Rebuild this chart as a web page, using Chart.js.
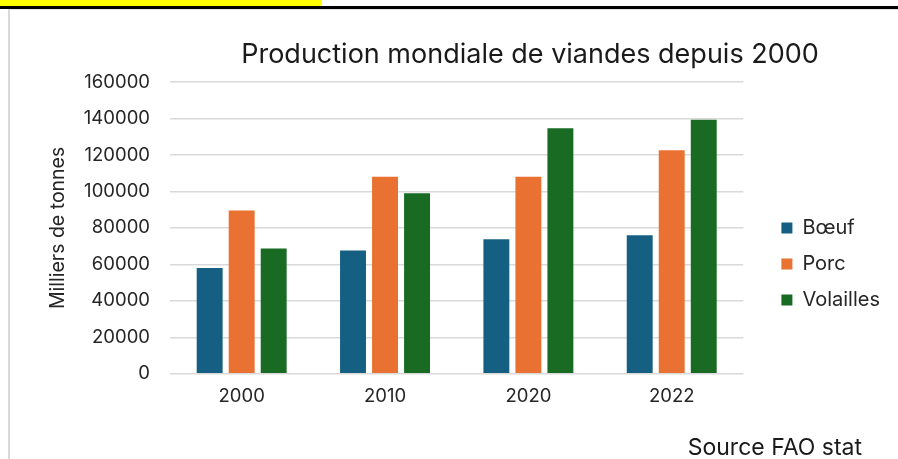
<!DOCTYPE html>
<html>
<head>
<meta charset="utf-8">
<script src="https://cdn.jsdelivr.net/npm/chart.js@4"></script>
<style>
  body { margin: 0; background: #fff; overflow: hidden; }
  #wrap { position: relative; width: 898px; height: 459px; }
  #surligne { position: absolute; left: 0; top: 0; width: 322px; height: 6px; background: #ffff00; }
  #trait { position: absolute; left: 0; top: 6px; width: 898px; height: 3px; background: #000; }
  #cadre { position: absolute; left: 8px; top: 9px; width: 890px; height: 450px; border-left: 2px solid #d9d9d9; border-top: 1px solid #e3e3e3; }
  canvas { position: absolute; left: 0; top: 0; }
</style>
</head>
<body>
<div id="wrap">
  <div id="surligne"></div>
  <div id="trait"></div>
  <div id="cadre"></div>
  <canvas id="barChart" width="898" height="459"></canvas>
</div>
<script>
// données (milliers de tonnes)
var annees = ["2000", "2010", "2020", "2022"];
var boeuf = [58000, 67600, 73800, 76000];
var porc = [89600, 108000, 108000, 122600];
var volailles = [68700, 99000, 134700, 139300];

var couleurs = {
  boeuf: "#156082",
  porc: "#e97132",
  volailles: "#196b24",
};

var police = "Inter, 'Liberation Sans', sans-serif";
var gris = "#262626";

// titre et source dessinés à la main (position comme dans Excel)
var textesPlugin = {
  id: "textes",
  afterDraw: function (chart) {
    var ctx = chart.ctx;
    ctx.save();
    ctx.fillStyle = "#1a1a1a";
    ctx.textBaseline = "middle";
    ctx.textAlign = "center";
    ctx.font = "27px " + police;
    ctx.fillText("Production mondiale de viandes depuis 2000", 530, 55);
    ctx.textAlign = "right";
    ctx.font = "23px " + police;
    ctx.fillText("Source FAO stat", 862, 448);
    ctx.restore();
  },
};

window.addEventListener("DOMContentLoaded", function () {
  var ctx = document.getElementById("barChart");
  new Chart(ctx, {
    type: "bar",
    data: {
      labels: annees,
      datasets: [
        { label: "Bœuf", data: boeuf, backgroundColor: couleurs.boeuf },
        { label: "Porc", data: porc, backgroundColor: couleurs.porc },
        { label: "Volailles", data: volailles, backgroundColor: couleurs.volailles },
      ],
    },
    options: {
      responsive: false,
      devicePixelRatio: 1,
      animation: false,
      categoryPercentage: 0.67,
      barPercentage: 0.81,
      layout: {
        padding: { left: 40, top: 82, right: 8, bottom: 39 },
      },
      plugins: {
        title: { display: false },
        tooltip: { enabled: false },
        legend: {
          position: "right",
          align: "center",
          // titre vide : descend un peu les entrées de la légende
          title: {
            display: true,
            text: " ",
            font: { size: 10 },
            padding: { top: 14, bottom: 0 },
          },
          labels: {
            boxWidth: 11,
            boxHeight: 11,
            padding: 16,
            color: gris,
            font: { family: police, size: 20 },
          },
        },
      },
      scales: {
        x: {
          grid: { display: false, drawTicks: false },
          border: { display: false },
          ticks: {
            color: gris,
            padding: 12,
            font: { family: police, size: 18.5 },
          },
        },
        y: {
          min: 0,
          max: 160000,
          afterFit: function (scale) {
            scale.width = 130;
          },
          ticks: {
            stepSize: 20000,
            padding: 20,
            color: gris,
            font: { family: police, size: 18.5 },
            callback: function (v) {
              return String(v);
            },
          },
          grid: { color: "#d9d9d9", lineWidth: 1.5, drawTicks: false },
          border: { display: false },
          title: {
            display: true,
            text: "Milliers de tonnes",
            color: gris,
            padding: { top: 6, bottom: 0 },
            font: { family: police, size: 19.5 },
          },
        },
        // axe vide à droite : écart entre le graphe et la légende
        marge: {
          position: "right",
          display: true,
          grid: { display: false },
          border: { display: false },
          ticks: { display: false },
          afterFit: function (scale) {
            scale.width = 22;
          },
        },
      },
    },
    plugins: [textesPlugin],
  });
});
</script>
</body>
</html>
